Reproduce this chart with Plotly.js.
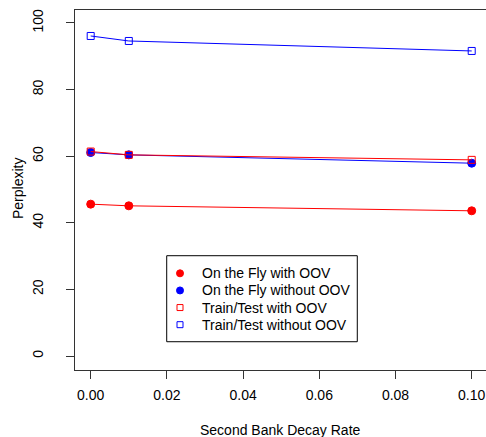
<!DOCTYPE html>
<html>
<head>
<meta charset="utf-8">
<script src="https://cdn.plot.ly/plotly-3.0.1.min.js"></script>
<style>html,body{margin:0;padding:0;background:#fff;}#chart{width:486px;height:437px;}</style>
</head>
<body>
<div id="chart"></div>
<script>
// ---- data ----
const decayRates = [0.00, 0.01, 0.10];
const onFlyWithOOV = [45.6, 45.1, 43.6];
const onFlyWithoutOOV = [61.1, 60.4, 57.9];
const trainTestWithOOV = [61.4, 60.4, 58.9];
const trainTestWithoutOOV = [96.1, 94.6, 91.6];
const seriesNames = ["On the Fly with OOV", "On the Fly without OOV", "Train/Test with OOV", "Train/Test without OOV"];
const xTicks = [0, 0.02, 0.04, 0.06, 0.08, 0.10];
const xTickLabels = ["0.00", "0.02", "0.04", "0.06", "0.08", "0.10"];
const yTicks = [0, 20, 40, 60, 80, 100];
const yTickLabels = ["0", "20", "40", "60", "80", "100"];

// ---- styles ----
const FONT = "Liberation Sans, Arial, Helvetica, sans-serif";
const RED = "#ff0000", BLUE = "#0000ff";
const styles = [
  {color: RED, symbol: "circle", size: 8, legSize: 7},
  {color: BLUE, symbol: "circle", size: 8, legSize: 7},
  {color: RED, symbol: "square-open", size: 7, legSize: 6},
  {color: BLUE, symbol: "square-open", size: 7, legSize: 6}
];
const seriesValues = [onFlyWithOOV, onFlyWithoutOOV, trainTestWithOOV, trainTestWithoutOOV];

const traces = seriesValues.map((vals, i) => ({
  x: decayRates, y: vals, type: "scatter", mode: "lines+markers",
  name: seriesNames[i], showlegend: false, hoverinfo: "skip",
  line: {color: styles[i].color, width: 1},
  marker: {color: styles[i].color, symbol: styles[i].symbol, size: styles[i].size, opacity: 1,
           line: {color: styles[i].color, width: 1}}
}));

// ---- manual legend (R-style) in data coordinates ----
const leg = {x0: 0.01995, x1: 0.06997, y0: 4.29, y1: 30.12, markerX: 0.02344, textX: 0.02869,
             rowTop: 24.83, rowStep: 5.14};
const rowY = seriesNames.map((_, i) => leg.rowTop - i * leg.rowStep);
traces.push({
  x: rowY.map(() => leg.markerX), y: rowY, type: "scatter", mode: "markers",
  showlegend: false, hoverinfo: "skip",
  marker: {color: styles.map(s => s.color), symbol: styles.map(s => s.symbol), opacity: 1,
           size: styles.map(s => s.legSize), line: {color: styles.map(s => s.color), width: 1}}
});
const annotations = seriesNames.map((n, i) => ({
  x: leg.textX, y: rowY[i], xref: "x", yref: "y", text: n, showarrow: false,
  xanchor: "left", yanchor: "middle", font: {family: FONT, size: 14, color: "#000"}
}));
annotations.push({
  x: 0.5, y: -(430 - 370) / 360, xref: "paper", yref: "paper", text: "Second Bank Decay Rate",
  showarrow: false, yanchor: "middle", font: {family: FONT, size: 14, color: "#000"}
});
annotations.push({
  x: -(75 - 18) / 411, y: 1 - (189 - 10) / 360, xref: "paper", yref: "paper", text: "Perplexity",
  showarrow: false, textangle: -90, xanchor: "center", yanchor: "middle",
  font: {family: FONT, size: 14, color: "#000"}
});
const layout = {
  width: 486, height: 437,
  margin: {l: 75, r: 0, t: 10, b: 67, pad: 0},
  paper_bgcolor: "#fff", plot_bgcolor: "#fff",
  font: {family: FONT, size: 14, color: "#000"},
  xaxis: {
    range: [-0.00412, 0.10375], tickvals: xTicks, ticktext: xTickLabels,
    ticks: "outside", ticklen: 8, tickwidth: 1, tickcolor: "#333",
    showgrid: false, zeroline: false, showline: true, linecolor: "#333", linewidth: 1, mirror: true,
    tickfont: {family: FONT, size: 14, color: "#000"}, ticklabelstandoff: 4
  },
  yaxis: {
    range: [-4.2, 103.9], tickvals: yTicks, ticktext: yTickLabels, tickangle: -90,
    ticks: "outside", ticklen: 8, tickwidth: 1, tickcolor: "#333",
    showgrid: false, zeroline: false, showline: true, linecolor: "#333", linewidth: 1, mirror: true,
    tickfont: {family: FONT, size: 14, color: "#000"}, ticklabelstandoff: 17
  },
  shapes: [{type: "rect", xref: "x", yref: "y", x0: leg.x0, x1: leg.x1, y0: leg.y0, y1: leg.y1,
            line: {color: "#000", width: 1}, fillcolor: "rgba(0,0,0,0)"}],
  annotations: annotations
};
Plotly.newPlot("chart", traces, layout, {staticPlot: true, displayModeBar: false});
</script>
</body>
</html>
